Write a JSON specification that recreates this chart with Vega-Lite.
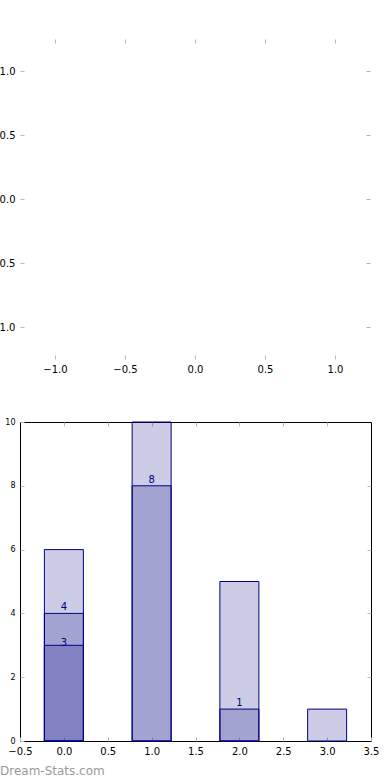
{
  "$schema": "https://vega.github.io/schema/vega-lite/v6.json",
  "padding": {"left": -10, "top": 38, "right": 0, "bottom": 0},
  "config": {
    "font": "DejaVu Sans",
    "axis": {
      "grid": false,
      "domain": false,
      "tickSize": -4,
      "tickColor": "#b8b8b8",
      "tickWidth": 1,
      "labelPadding": 9,
      "labelFlush": false,
      "labelColor": "#000000",
      "labelFont": "DejaVu Sans",
      "labelFontSize": 10
    }
  },
  "spacing": 63,
  "bounds": "flush",
  "title": {
    "text": "Dream-Stats.com",
    "orient": "bottom",
    "anchor": "start",
    "frame": "group",
    "color": "#999999",
    "fontSize": 12,
    "fontWeight": "normal",
    "font": "DejaVu Sans",
    "dx": -20,
    "offset": 9
  },
  "vconcat": [
    {
      "width": 350,
      "height": 320,
      "view": {"stroke": null},
      "data": {"values": []},
      "layer": [
        {
          "mark": {"type": "point", "opacity": 0},
          "encoding": {
            "x": {"field": "x", "type": "quantitative",
              "scale": {"domain": [-1.25, 1.25], "nice": false, "zero": false},
              "axis": {"orient": "bottom", "title": null, "values": [-1, -0.5, 0, 0.5, 1], "format": ".1f"}},
            "y": {"field": "y", "type": "quantitative",
              "scale": {"domain": [-1.25, 1.25], "nice": false, "zero": false},
              "axis": {"orient": "left", "title": null, "values": [-1, -0.5, 0, 0.5, 1], "format": ".1f"}}
          }
        },
        {
          "mark": {"type": "point", "opacity": 0},
          "encoding": {
            "x": {"field": "x", "type": "quantitative",
              "axis": {"orient": "top", "title": null, "values": [-1, -0.5, 0, 0.5, 1], "labels": false}},
            "y": {"field": "y", "type": "quantitative",
              "axis": {"orient": "right", "title": null, "values": [-1, -0.5, 0, 0.5, 1], "labels": false}}
          }
        }
      ]
    },
    {
      "width": 351,
      "height": 319,
      "view": {"stroke": "#000000", "strokeWidth": 1},
      "data": {"values": [
        {"x": 0, "series": "a", "count": 6},
        {"x": 1, "series": "a", "count": 10},
        {"x": 2, "series": "a", "count": 5},
        {"x": 3, "series": "a", "count": 1},
        {"x": 0, "series": "b", "count": 4},
        {"x": 1, "series": "b", "count": 8},
        {"x": 2, "series": "b", "count": 1},
        {"x": 0, "series": "c", "count": 3}
      ]},
      "layer": [
        {
          "mark": {"type": "bar", "size": 39, "fill": "#000080", "fillOpacity": 0.2, "stroke": "#000080", "strokeWidth": 1},
          "encoding": {
            "x": {"field": "x", "type": "quantitative",
              "scale": {"domain": [-0.5, 3.5], "nice": false, "zero": false, "padding": 0},
              "axis": {"orient": "bottom", "title": null, "values": [-0.5, 0, 0.5, 1, 1.5, 2, 2.5, 3, 3.5], "format": ".1f"}},
            "y": {"field": "count", "type": "quantitative", "stack": null,
              "scale": {"domain": [0, 10], "nice": false},
              "axis": {"orient": "left", "title": null, "values": [0, 2, 4, 6, 8, 10], "format": "d", "labelFontSize": 8}}
          }
        },
        {
          "transform": [{"filter": "datum.series == 'b'"}],
          "mark": {"type": "text", "color": "#000080", "fontSize": 10, "baseline": "alphabetic", "dy": -3},
          "encoding": {
            "x": {"field": "x", "type": "quantitative",
              "axis": {"orient": "top", "title": null, "values": [0, 0.5, 1, 1.5, 2, 2.5, 3], "labels": false}},
            "y": {"field": "count", "type": "quantitative",
              "axis": {"orient": "right", "title": null, "values": [2, 4, 6, 8], "labels": false}},
            "text": {"field": "count", "type": "quantitative"}
          }
        },
        {
          "transform": [{"filter": "datum.series == 'c'"}],
          "mark": {"type": "text", "color": "#000080", "fontSize": 10, "baseline": "middle", "dy": -2},
          "encoding": {
            "x": {"field": "x", "type": "quantitative", "axis": null},
            "y": {"field": "count", "type": "quantitative", "axis": null},
            "text": {"field": "count", "type": "quantitative"}
          }
        }
      ]
    }
  ]
}
